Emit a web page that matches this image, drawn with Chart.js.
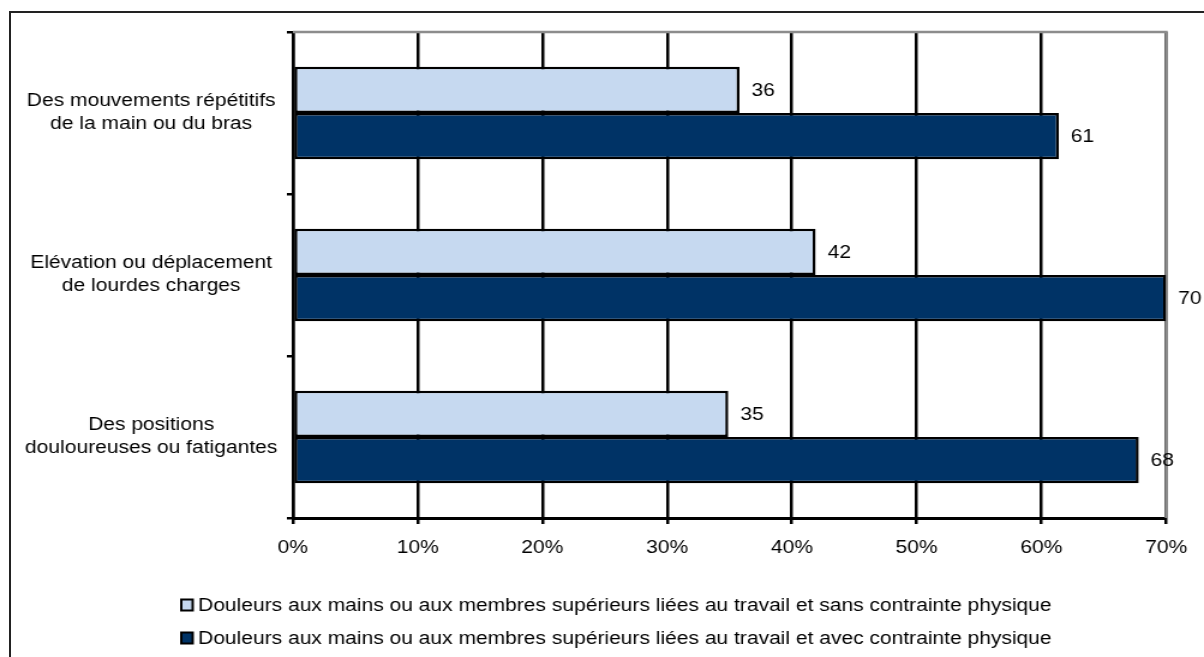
<!DOCTYPE html>
<html>
<head>
<meta charset="utf-8">
<script src="https://cdn.jsdelivr.net/npm/chart.js@4.4.0/dist/chart.umd.min.js"></script>
<style>
    html, body { margin: 0; padding: 0; background: #fff; overflow: hidden; width: 1204px; height: 657px; }
    #frame { position: absolute; left: 9px; top: 11px; width: 1220px; height: 680px; border: 2px solid #222; box-sizing: border-box; }
    #wrap { position: absolute; left: 0; top: 0; width: 1003px; height: 657px; transform: scaleX(1.2004); transform-origin: 0 0; }
</style>
</head>
<body>
<div id="frame"></div>
<div id="wrap"><canvas id="barChart" width="1003" height="657"></canvas></div>
<script>
const categories = [
    ['Des mouvements répétitifs', 'de la main ou du bras'],
    ['Elévation ou déplacement', 'de lourdes charges'],
    ['Des positions', 'douloureuses ou fatigantes']
];
const seriesNames = [
    'Douleurs aux mains ou aux membres supérieurs liées au travail et sans contrainte physique',
    'Douleurs aux mains ou aux membres supérieurs liées au travail et avec contrainte physique'
];
const sansContrainte = [35.8, 41.9, 34.9];
const avecContrainte = [61.4, 70.0, 67.8];
const xTicks = [0, 10, 20, 30, 40, 50, 60, 70];

const FONT = '"Liberation Sans", Arial, sans-serif';
const FONT_SIZE = 17.5;

// gray border on top and right of the plot area
const plotFrame = {
    id: 'plotFrame',
    beforeDatasetsDraw(chart) {
        const { ctx, chartArea: a } = chart;
        ctx.save();
        ctx.strokeStyle = '#8c8c8c';
        ctx.lineWidth = 2.5;
        ctx.beginPath();
        ctx.moveTo(a.left, a.top);
        ctx.lineTo(a.right, a.top);
        ctx.lineTo(a.right, a.bottom);
        ctx.stroke();
        ctx.restore();
    }
};

const barLabels = {
    id: 'barLabels',
    afterDatasetsDraw(chart) {
        const ctx = chart.ctx;
        ctx.save();
        ctx.font = FONT_SIZE + 'px ' + FONT;
        ctx.fillStyle = '#000';
        ctx.textAlign = 'left';
        ctx.textBaseline = 'middle';
        chart.data.datasets.forEach((ds, i) => {
            chart.getDatasetMeta(i).data.forEach((bar, j) => {
                ctx.fillText(String(Math.round(ds.data[j])), bar.x + 10, bar.y + 1);
            });
        });
        ctx.restore();
    }
};

// legend drawn as two left-aligned rows under the axis
const rowLegend = {
    id: 'rowLegend',
    afterDraw(chart) {
        const ctx = chart.ctx;
        ctx.save();
        ctx.font = FONT_SIZE + 'px ' + FONT;
        ctx.textAlign = 'left';
        ctx.textBaseline = 'middle';
        chart.data.datasets.forEach((ds, i) => {
            const y = 605 + i * 33;
            ctx.fillStyle = ds.backgroundColor;
            ctx.strokeStyle = '#000';
            ctx.lineWidth = 2;
            ctx.fillRect(151, y - 5.5, 9.5, 11);
            ctx.strokeRect(151, y - 5.5, 9.5, 11);
            ctx.fillStyle = '#000';
            ctx.fillText(ds.label, 165, y + 1);
        });
        ctx.restore();
    }
};

const ctx = document.getElementById('barChart').getContext('2d');
new Chart(ctx, {
    type: 'bar',
    data: {
        labels: categories,
        datasets: [{
            label: seriesNames[0],
            data: sansContrainte,
            backgroundColor: '#c6d9f0',
            borderColor: '#000',
            borderWidth: 2.5,
            borderSkipped: false
        }, {
            label: seriesNames[1],
            data: avecContrainte,
            backgroundColor: '#003366',
            borderColor: '#000',
            borderWidth: 2.5,
            borderSkipped: false
        }]
    },
    options: {
        indexAxis: 'y',
        responsive: false,
        animation: false,
        categoryPercentage: 0.57,
        barPercentage: 1,
        layout: {
            padding: { left: 10, right: 31, top: 32, bottom: 76 }
        },
        plugins: {
            legend: { display: false },
            tooltip: { enabled: false }
        },
        scales: {
            x: {
                min: 0,
                max: 70,
                afterBuildTicks: (scale) => {
                    scale.ticks = xTicks.map(v => ({ value: v }));
                },
                afterFit: (scale) => { scale.height = 63; },
                grid: {
                    color: '#000',
                    lineWidth: 2.5,
                    tickLength: 6
                },
                border: { color: '#000', width: 3 },
                ticks: {
                    color: '#000',
                    padding: 14,
                    maxRotation: 0,
                    font: { family: FONT, size: FONT_SIZE },
                    callback: (v) => v + '%'
                }
            },
            y: {
                afterFit: (scale) => { scale.width = 234; },
                grid: {
                    drawOnChartArea: false,
                    color: '#000',
                    lineWidth: 2.5,
                    tickLength: 5
                },
                border: { color: '#000', width: 2.5 },
                ticks: {
                    color: '#000',
                    padding: 8,
                    crossAlign: 'center',
                    font: { family: FONT, size: FONT_SIZE, lineHeight: 1.32 }
                }
            }
        }
    },
    plugins: [plotFrame, barLabels, rowLegend]
});
</script>
</body>
</html>
